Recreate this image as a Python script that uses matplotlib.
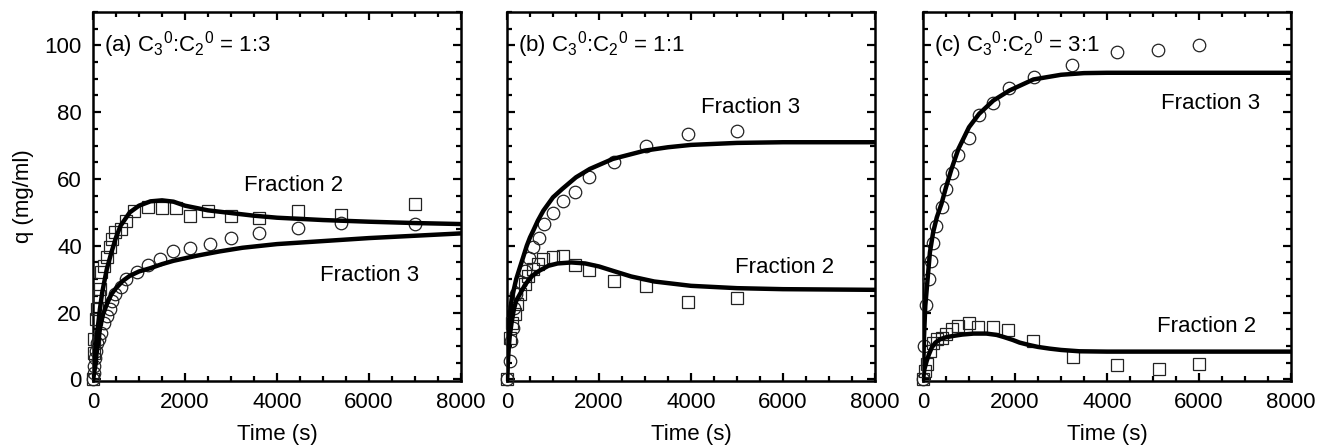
import matplotlib
matplotlib.use('Agg')
import matplotlib.pyplot as plt
from matplotlib.ticker import MultipleLocator

plt.rcParams['font.family'] = ['Liberation Sans', 'DejaVu Sans']
plt.rcParams['mathtext.fontset'] = 'custom'
plt.rcParams['mathtext.rm'] = 'Liberation Sans'
plt.rcParams['mathtext.it'] = 'Liberation Sans:italic'
plt.rcParams['mathtext.bf'] = 'Liberation Sans:bold'

# ---------------- Panel (a): C3:C2 = 1:3 ----------------
a_f2_t = [0, 15, 30, 60, 90, 120, 150, 180, 240, 300, 360, 420, 480, 600, 720,
          900, 1200, 1500, 1800, 2100, 2500, 3000, 3600, 4450, 5400, 7000]
a_f2_q = [0, 8, 12, 18, 21, 25, 27, 32, 34, 36.5, 39.5, 42, 44, 45, 47.5,
          50.5, 51.5, 51.2, 51.2, 49, 50.5, 49, 48.3, 50.5, 49.3, 52.5]
a_f3_t = [0, 15, 30, 45, 60, 90, 120, 180, 240, 300, 360, 420, 480, 600, 720,
          960, 1200, 1450, 1750, 2100, 2550, 3000, 3600, 4450, 5400, 7000]
a_f3_q = [0, 2, 4, 6.5, 8.5, 11, 12, 14, 17, 19, 21, 23.5, 25.5, 27.5, 30,
          32, 34.3, 36, 38.3, 39.2, 40.5, 42.2, 43.7, 45.3, 46.8, 46.5]
a_f2_fit_t = [0, 50, 100, 150, 200, 300, 400, 500, 600, 800, 1000, 1250, 1500,
              1750, 2000, 2500, 3000, 3500, 4000, 5000, 6000, 7000, 8000]
a_f2_fit_q = [0, 8, 15, 21, 26, 33, 38, 42.5, 46, 50, 52, 53.3, 53.6,
              53.2, 52, 50.6, 49.8, 49, 48.4, 47.7, 47.2, 46.8, 46.5]
a_f3_fit_t = [0, 25, 50, 80, 120, 160, 220, 300, 400, 500, 650, 800, 1000, 1250,
              1500, 1750, 2250, 2750, 3250, 4000, 5000, 6000, 7000, 8000]
a_f3_fit_q = [0, 2, 4, 8, 12, 16, 19.5, 22.5, 25.5, 27.3, 29.5, 31, 32.3, 33.3,
              34.5, 35.5, 37, 38.3, 39.4, 40.5, 41.4, 42.3, 43, 43.7]

# ---------------- Panel (b): C3:C2 = 1:1 ----------------
b_f2_t = [0, 60, 100, 170, 210, 280, 390, 460, 560, 670, 790, 1000, 1220,
          1480, 1780, 2330, 3020, 3940, 5000]
b_f2_q = [0, 12.5, 17, 19.5, 22.5, 25.5, 28.5, 31, 33, 34.5, 36, 36.5, 37,
          34.2, 32.7, 29.5, 27.8, 23.2, 24.5]
b_f3_t = [0, 60, 90, 120, 150, 200, 300, 390, 480, 570, 690, 810, 990, 1220,
          1480, 1780, 2330, 3020, 3940, 5000]
b_f3_q = [0, 5.5, 11.5, 15.5, 21.5, 25.5, 29, 32.5, 36.3, 39.7, 42.3, 46.5,
          49.8, 53.5, 56, 60.5, 65.2, 70, 73.5, 74.5]
b_f2_fit_t = [0, 30, 60, 100, 150, 200, 280, 400, 550, 700, 900, 1100, 1400,
              1700, 2000, 2300, 2700, 3200, 4000, 5000, 6000, 7000, 8000]
b_f2_fit_q = [0, 8, 13, 17, 21, 23.5, 25.5, 28.5, 31, 32.5, 34, 34.7, 35,
              34.7, 33.8, 32.5, 30.8, 29.3, 28, 27.3, 27, 26.9, 26.8]
b_f3_fit_t = [0, 30, 60, 100, 150, 200, 280, 350, 430, 500, 570, 670, 790, 1000,
              1200, 1500, 1800, 2300, 3000, 3500, 4000, 5000, 6000, 7000, 8000]
b_f3_fit_q = [0, 11, 19, 24, 27, 30, 33.5, 36.5, 40, 42.5, 44.5, 47.5, 50.5, 54.5,
              57, 60.5, 63, 66, 68.5, 69.5, 70.2, 70.8, 71, 71, 71]

# ---------------- Panel (c): C3:C2 = 3:1 ----------------
c_f2_t = [0, 40, 80, 150, 220, 300, 410, 500, 620, 750, 990, 1200, 1520, 1850,
          2400, 3250, 4210, 5120, 6000]
c_f2_q = [0, 2.5, 4.5, 8.5, 11, 12, 12.4, 13.7, 15, 16, 17, 15.7, 15.7, 14.7,
          11.5, 6.7, 4.3, 3, 4.5]
c_f3_t = [0, 30, 65, 137, 174, 210, 283, 407, 500, 624, 767, 1007, 1224, 1528,
          1876, 2413, 3246, 4224, 5116, 6007]
c_f3_q = [0, 10, 22.3, 30, 35.3, 40.8, 46, 51.7, 57, 61.7, 67.3, 72.3, 79.3,
          82.8, 87.3, 90.5, 94, 98, 98.7, 100]
c_f2_fit_t = [0, 30, 80, 130, 190, 270, 370, 500, 660, 850, 1100, 1380, 1600,
              1750, 1950, 2100, 2300, 2500, 2750, 3000, 3400, 4000, 5000, 6000,
              7000, 8000]
c_f2_fit_q = [0, 3, 5.5, 7.5, 9.5, 11, 12, 12.6, 13, 13.4, 13.7, 13.7, 13.3,
              12.7, 11.8, 11, 10.3, 9.7, 9.2, 8.8, 8.4, 8.3, 8.3, 8.3, 8.3, 8.3]
c_f3_fit_t = [0, 20, 50, 100, 150, 220, 300, 400, 500, 620, 770, 1000, 1220,
              1530, 1880, 2400, 3000, 3500, 4000, 5000, 6000, 7000, 8000]
c_f3_fit_q = [0, 12, 22, 30, 38, 44, 48.5, 52.5, 57.5, 63, 69, 75.5, 79.5,
              83.5, 86.5, 89.8, 91.2, 91.7, 91.8, 91.8, 91.8, 91.8, 91.8]

panel_titles = [r'(a) C$_3$$^0$:C$_2$$^0$ = 1:3',
                r'(b) C$_3$$^0$:C$_2$$^0$ = 1:1',
                r'(c) C$_3$$^0$:C$_2$$^0$ = 3:1']
labels_f2 = ['Fraction 2', 'Fraction 2', 'Fraction 2']
labels_f3 = ['Fraction 3', 'Fraction 3', 'Fraction 3']
f2_label_pos = [(4350, 58), (6040, 33.5), (6160, 15.7)]
f3_label_pos = [(6010, 31), (5290, 81.5), (6260, 82.5)]
x_ticks = [0, 2000, 4000, 6000, 8000]
y_ticks = [0, 20, 40, 60, 80, 100]

panels = [
    (a_f2_t, a_f2_q, a_f3_t, a_f3_q, a_f2_fit_t, a_f2_fit_q, a_f3_fit_t, a_f3_fit_q),
    (b_f2_t, b_f2_q, b_f3_t, b_f3_q, b_f2_fit_t, b_f2_fit_q, b_f3_fit_t, b_f3_fit_q),
    (c_f2_t, c_f2_q, c_f3_t, c_f3_q, c_f2_fit_t, c_f2_fit_q, c_f3_fit_t, c_f3_fit_q),
]

W, H = 1330, 446
fig = plt.figure(figsize=(W / 100, H / 100), dpi=100)
lefts_px = [93, 507, 923]
width_px = 368
top_px, bottom_px = 12, 381

for i, (p, lp) in enumerate(zip(panels, lefts_px)):
    f2t, f2q, f3t, f3q, f2ft, f2fq, f3ft, f3fq = p
    ax = fig.add_axes([lp / W, 1 - bottom_px / H, width_px / W, (bottom_px - top_px) / H])
    ax.plot(f2t, f2q, linestyle='none', marker='s', markersize=9,
            markerfacecolor='none', markeredgecolor='#222222', markeredgewidth=0.9,
            clip_on=False, zorder=3)
    ax.plot(f3t, f3q, linestyle='none', marker='o', markersize=9,
            markerfacecolor='none', markeredgecolor='#222222', markeredgewidth=0.9,
            clip_on=False, zorder=3)
    ax.plot(f2ft, f2fq, color='black', linewidth=3.2, zorder=4)
    ax.plot(f3ft, f3fq, color='black', linewidth=3.2, zorder=4)

    ax.set_xlim(0, 8000)
    ax.set_ylim(-0.5, 110)
    ax.set_xticks(x_ticks)
    ax.set_yticks(y_ticks)
    ax.xaxis.set_minor_locator(MultipleLocator(500))
    ax.yaxis.set_minor_locator(MultipleLocator(5))
    ax.tick_params(which='both', direction='in', top=True, right=True,
                   width=1.6, labelsize=16, pad=8)
    ax.tick_params(which='major', length=6)
    ax.tick_params(which='minor', length=3.5)
    for s in ax.spines.values():
        s.set_linewidth(1.8)
    if i > 0:
        ax.tick_params(labelleft=False)
    else:
        ax.set_ylabel('q (mg/ml)', fontsize=16, labelpad=8)
    ax.set_xlabel('Time (s)', fontsize=16, labelpad=8)

    ax.text(230, 98.3, panel_titles[i], fontsize=16, ha='left', va='baseline')
    ax.text(*f2_label_pos[i], labels_f2[i], fontsize=16, ha='center', va='center')
    ax.text(*f3_label_pos[i], labels_f3[i], fontsize=16, ha='center', va='center')

fig.savefig('out.png', dpi=100)
